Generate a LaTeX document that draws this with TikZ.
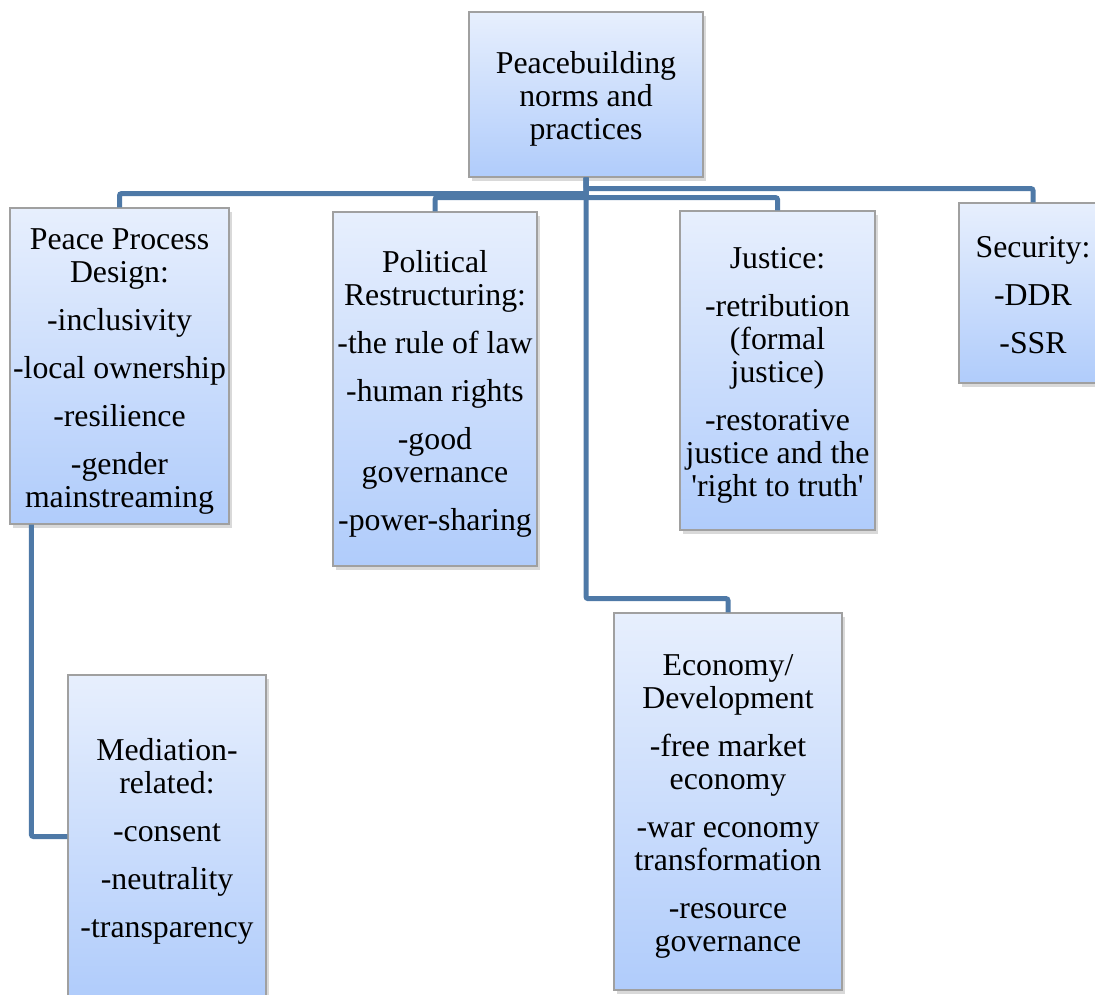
\documentclass[tikz,border=0pt]{standalone}
\usepackage{fontspec}
\setmainfont{Liberation Serif}
\usetikzlibrary{shadows}
\definecolor{connc}{RGB}{78,121,167}
\definecolor{boxtop}{RGB}{231,239,253}
\definecolor{boxbot}{RGB}{176,204,251}
\definecolor{boxline}{RGB}{160,160,160}
\newcommand\firstst{\rule{0pt}{31pt}}
\newcommand\lastst{\rule[-7pt]{0pt}{7pt}}
\begin{document}
\begin{tikzpicture}[x=1pt,y=-1pt,
  box/.style={draw=boxline, line width=1.2pt, top color=boxtop, bottom color=boxbot,
    align=center, inner sep=0pt, font=\fontsize{31.8}{33}\selectfont,
    drop shadow={opacity=0.3,shadow xshift=2.5pt,shadow yshift=-3.5pt}},
  conn/.style={draw=connc, line width=5pt, rounded corners=2pt}]
\useasboundingbox (0,0) rectangle (1095,994);
\clip (0,0) rectangle (1095,994);

\node[box, minimum width=234pt, minimum height=165pt] (top) at (586,94.5)
  {\firstst Peacebuilding\\norms and\\practices\lastst};
\node[box, minimum width=219pt, minimum height=316pt] (pd) at (119.5,366)
  {\firstst Peace Process\\Design:\\[15pt]-inclusivity\\[15pt]-local ownership\\[15pt]-resilience\\[15pt]-gender\\mainstreaming\lastst};
\node[box, minimum width=204pt, minimum height=354pt] (pr) at (435,389)
  {\firstst Political\\Restructuring:\\[15pt]-the rule of law\\[15pt]-human rights\\[15pt]-good\\governance\\[15pt]-power-sharing\lastst};
\node[box, minimum width=195pt, minimum height=319pt] (ju) at (777.5,370.5)
  {\firstst Justice:\\[15pt]-retribution\\(formal\\justice)\\[15pt]-restorative\\justice and the\\\textquotesingle right to truth\textquotesingle\lastst};
\node[box, minimum width=148pt, minimum height=180pt] (se) at (1033,293)
  {\firstst Security:\\[15pt]-DDR\\[15pt]-SSR\lastst};
\node[box, minimum width=198pt, minimum height=323pt] (me) at (167,836.5)
  {\firstst Mediation-\\related:\\[15pt]-consent\\[15pt]-neutrality\\[15pt]-transparency\lastst};
\node[box, minimum width=228pt, minimum height=377pt] (ec) at (728,801.5)
  {\firstst Economy/\\Development\\[15pt]-free market\\economy\\[15pt]-war economy\\transformation\\[15pt]-resource\\governance\lastst};

\draw[conn] (top.south) -- ++(0,16) -| (pd.north);
\draw[conn] (top.south) -- ++(0,11) -| (se.north);
\draw[conn] (top.south) -- ++(0,20) -| (pr.north);
\draw[conn] (top.south) -- ++(0,20) -| (ju.north);
\draw[conn] (top.south) -- ++(0,421) -| (ec.north);
\draw[conn] ([xshift=22pt]pd.south west) |- (me.west);
\end{tikzpicture}
\end{document}
